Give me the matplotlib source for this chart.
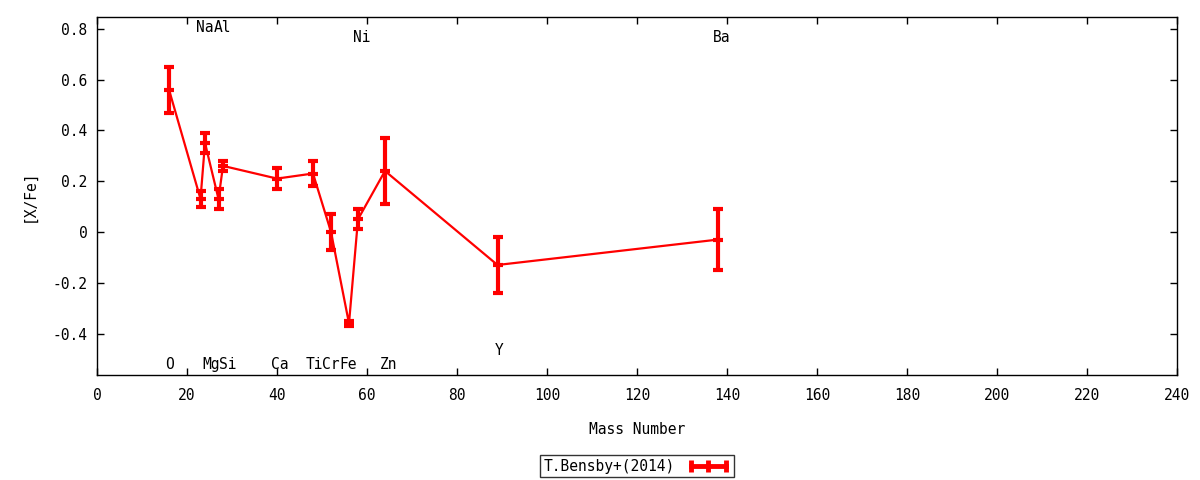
import matplotlib
matplotlib.use('Agg')
import matplotlib.pyplot as plt
from matplotlib.lines import Line2D
import numpy as np

plt.rcParams['font.family'] = 'DejaVu Sans Mono'

# abundances
elements = ['O', 'Na', 'Mg', 'Al', 'Si', 'Ca', 'Ti', 'Cr', 'Fe', 'Ni', 'Zn', 'Y', 'Ba']
mass = [16, 23, 24, 27, 28, 40, 48, 52, 56, 58, 64, 89, 138]
xfe = [0.56, 0.13, 0.35, 0.13, 0.26, 0.21, 0.23, 0.0, -0.36, 0.05, 0.24, -0.13, -0.03]
err = [0.09, 0.03, 0.04, 0.04, 0.02, 0.04, 0.05, 0.07, 0.01, 0.04, 0.13, 0.11, 0.12]
# where each element name sits
label_x = [16.2, 24, 25.3, 27.9, 29, 40.7, 48.2, 52, 55.8, 58.9, 64.7, 89.3, 138.9]
label_y = [-0.52, 0.805, -0.52, 0.805, -0.52, -0.52, -0.52, -0.52, -0.52, 0.765, -0.52, -0.465, 0.765]

red = '#ff0000'

fig = plt.figure(figsize=(12, 4.8), dpi=100)
ax = fig.add_axes([97/1200, 1 - 375/480, (1177-97)/1200, (375-17)/480])

ax.errorbar(mass, xfe, yerr=err, color=red, lw=1.6, elinewidth=3,
            capsize=3.5, capthick=3, marker='_', ms=7, mew=3)

for el, lx, ly in zip(elements, label_x, label_y):
    ax.text(lx, ly, el, ha='center', va='center', fontsize=10.5)

ax.set_xlim(0, 240)
ax.set_ylim(-0.563, 0.846)
ax.set_xticks(np.arange(0, 241, 20))
ax.set_yticks([-0.4, -0.2, 0, 0.2, 0.4, 0.6, 0.8])
ax.set_yticklabels(['-0.4', '-0.2', '0', '0.2', '0.4', '0.6', '0.8'])
ax.tick_params(direction='in', top=True, right=True, length=5, width=1, labelsize=10.5)
ax.tick_params(axis='x', pad=9)
ax.tick_params(axis='y', pad=7)
for s in ax.spines.values():
    s.set_linewidth(1)

ax.set_xlabel('Mass Number', fontsize=10.5, labelpad=14)
ax.set_ylabel('[X/Fe]', fontsize=10.5, labelpad=11)

proxy = Line2D([], [], color=red, lw=3.5, marker='|', ms=9, mew=3.5)
leg = ax.legend([proxy], ['T.Bensby+(2014)'], loc='center', bbox_to_anchor=(0.5, -0.255),
                markerfirst=False, numpoints=3, frameon=True, fancybox=False,
                edgecolor='black', fontsize=10.5, handlelength=3.0, borderpad=0.25,
                borderaxespad=0)
leg.get_frame().set_linewidth(1)

fig.savefig('out.png', dpi=100)
